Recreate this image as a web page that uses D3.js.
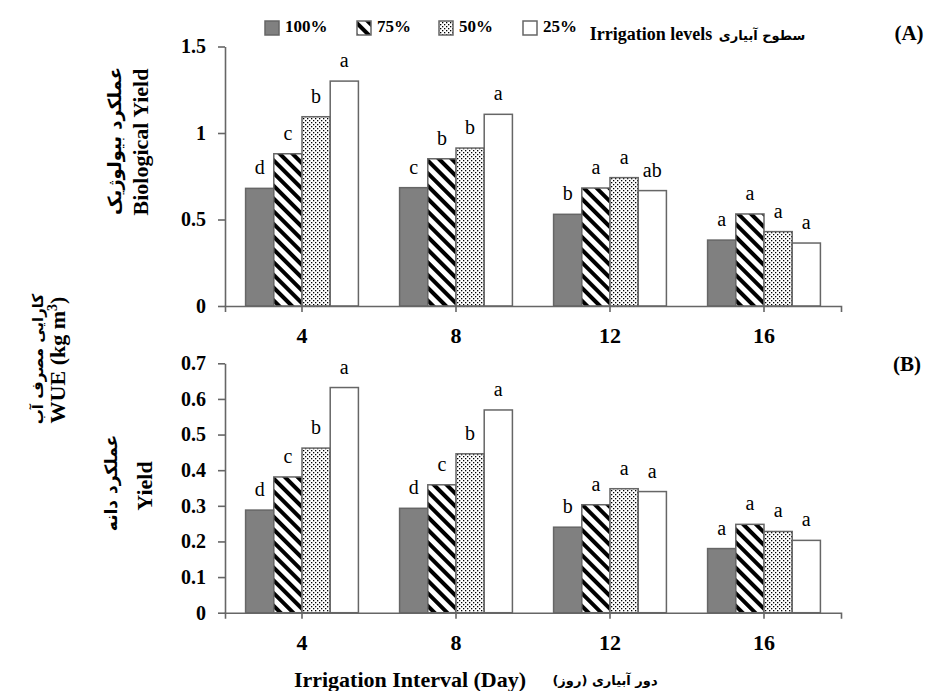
<!DOCTYPE html>
<html>
<head>
<meta charset="utf-8">
<script src="https://cdn.jsdelivr.net/npm/d3@7"></script>
<style>
  body { margin: 0; background: #fff; }
  svg { display: block; }
</style>
</head>
<body>
<script>
// chart data
var intervals = ["4", "8", "12", "16"];
var levels = ["100%", "75%", "50%", "25%"];

// (A) biological yield WUE, one row per interval, columns = levels
var bioValues = [
  [0.68, 0.88, 1.094, 1.30],
  [0.684, 0.851, 0.913, 1.108],
  [0.53, 0.682, 0.742, 0.667],
  [0.381, 0.532, 0.43, 0.364]
];
var bioLetters = [
  ["d", "c", "b", "a"],
  ["c", "b", "b", "a"],
  ["b", "a", "a", "ab"],
  ["a", "a", "a", "a"]
];
var bioTicks = [0, 0.5, 1, 1.5];

// (B) grain yield WUE
var grainValues = [
  [0.288, 0.381, 0.462, 0.632],
  [0.293, 0.359, 0.446, 0.569],
  [0.240, 0.303, 0.348, 0.340],
  [0.180, 0.248, 0.228, 0.203]
];
var grainLetters = [
  ["d", "c", "b", "a"],
  ["d", "c", "b", "a"],
  ["b", "a", "a", "a"],
  ["a", "a", "a", "a"]
];
var grainTicks = [0, 0.1, 0.2, 0.3, 0.4, 0.5, 0.6, 0.7];

var W = 927, H = 691;
var serif = "'Liberation Serif', 'Times New Roman', serif";
var fa = "'DejaVu Sans', sans-serif";
var grey = "#666";

var svg = d3.select("body").append("svg")
    .attr("width", W)
    .attr("height", H);

svg.append("rect").attr("width", W).attr("height", H).attr("fill", "#fff");

//patterns for the fills
var defs = svg.append("defs");
var stripes = defs.append("pattern")
    .attr("id", "stripes")
    .attr("patternUnits", "userSpaceOnUse")
    .attr("width", 9).attr("height", 9)
    .attr("patternTransform", "rotate(-45)");
stripes.append("rect").attr("width", 9).attr("height", 9).attr("fill", "#fff");
stripes.append("rect").attr("width", 4).attr("height", 9).attr("fill", "#000");

var dots = defs.append("pattern")
    .attr("id", "dots")
    .attr("patternUnits", "userSpaceOnUse")
    .attr("width", 4).attr("height", 4);
dots.append("rect").attr("width", 4).attr("height", 4).attr("fill", "#fff");
dots.append("rect").attr("width", 1.3).attr("height", 1.3).attr("fill", "#000");
dots.append("rect").attr("x", 2).attr("y", 2).attr("width", 1.3).attr("height", 1.3).attr("fill", "#000");

var fills = ["#808080", "url(#stripes)", "url(#dots)", "#fff"];

var x0 = d3.scaleBand().domain(intervals).range([225, 841]);
var x1 = d3.scaleBand().domain(levels).range([0, x0.bandwidth()]).paddingOuter(0.73);

function panel(values, letters, ticks, yTop, yBottom, yMax) {
  var y = d3.scaleLinear().domain([0, yMax]).range([yBottom, yTop]);
  var g = svg.append("g");

  //bars
  var groups = g.selectAll(".grp")
      .data(values)
      .enter().append("g")
        .attr("class", "grp")
        .attr("transform", function(d, i) { return "translate(" + x0(intervals[i]) + ",0)"; });

  groups.selectAll("rect")
      .data(function(d) { return d; })
      .enter().append("rect")
        .attr("x", function(d, j) { return x1(levels[j]); })
        .attr("y", function(d) { return y(d); })
        .attr("width", x1.bandwidth())
        .attr("height", function(d) { return y(0) - y(d); })
        .attr("fill", function(d, j) { return fills[j]; })
        .attr("stroke", grey)
        .attr("stroke-width", 1.5);

  //significance letters
  groups.selectAll(".let")
      .data(function(d, i) { return d.map(function(v, j) { return {v: v, t: letters[i][j], j: j}; }); })
      .enter().append("text")
        .attr("class", "let")
        .attr("x", function(d) { return x1(levels[d.j]) + x1.bandwidth() / 2; })
        .attr("y", function(d) { return y(d.v) - 14; })
        .attr("text-anchor", "middle")
        .style("font-family", serif)
        .style("font-size", "20px")
        .text(function(d) { return d.t; });

  //y axis
  var ya = g.append("g")
      .attr("transform", "translate(225,0)")
      .call(d3.axisLeft(y).tickValues(ticks).tickSize(7).tickSizeOuter(0).tickPadding(12)
        .tickFormat(function(d) { return String(+d.toFixed(1)); }));
  ya.selectAll("text").style("font-family", serif).style("font-size", "20px")
      .style("font-weight", "bold").attr("fill", "#000");

  //x axis
  var xa = g.append("g")
      .attr("transform", "translate(0," + yBottom + ")")
      .call(d3.axisBottom(x0).tickSize(6).tickSizeOuter(6));
  xa.selectAll("text").attr("y", 37).attr("dy", 0)
      .style("font-family", serif).style("font-size", "22px")
      .style("font-weight", "bold").attr("fill", "#000");

  [ya, xa].forEach(function(a) {
    a.selectAll("path, line").attr("stroke", grey).attr("stroke-width", 1.6);
  });
}

panel(bioValues, bioLetters, bioTicks, 46.5, 306, 1.5);
panel(grainValues, grainLetters, grainTicks, 363.3, 612.7, 0.7);

//legend
var lx = [265, 357, 439, 523];
var leg = svg.append("g");
levels.forEach(function(l, i) {
  leg.append("rect")
    .attr("x", lx[i]).attr("y", 21)
    .attr("width", 14).attr("height", 14)
    .attr("fill", fills[i])
    .attr("stroke", grey).attr("stroke-width", 1.5);
  leg.append("text")
    .attr("x", lx[i] + 20).attr("y", 32)
    .style("font-family", serif).style("font-size", "17px").style("font-weight", "bold")
    .text(l);
});

function label(txt, x, y, size, font, rot, dir) {
  var t = svg.append("text")
    .attr("transform", "translate(" + x + "," + y + ")" + (rot ? " rotate(-90)" : ""))
    .attr("text-anchor", "middle")
    .style("font-family", font)
    .style("font-size", size + "px")
    .style("font-weight", "bold");
  if (dir) t.attr("direction", "rtl").style("unicode-bidi", "embed");
  t.text(txt);
  return t;
}

label("Irrigation levels", 651, 40, 18, serif);
label("سطوح آبیاری", 762, 40, 13, fa, false, true);
label("(A)", 909, 40, 21, serif);
label("(B)", 907, 371, 21, serif);

//y titles
label("Biological Yield", 148, 142, 22, serif, true);
label("عملکرد بیولوژیک", 121, 141, 18, fa, true, true);
label("Yield", 152, 486, 22, serif, true);
label("عملکرد دانه", 117, 483, 17, fa, true, true);

var wue = label("WUE (kg m", 65, 360, 22, serif, true);
wue.append("tspan").attr("dy", -8).style("font-size", "14px").text("3");
wue.append("tspan").attr("dy", 8).text(")");
label("کارایی مصرف آب", 43, 359, 15, fa, true, true);

//x title
label("Irrigation Interval (Day)", 410, 687, 22, serif);
label("دور آبیاری (روز)", 605, 685, 13, fa, false, true);
</script>
</body>
</html>
